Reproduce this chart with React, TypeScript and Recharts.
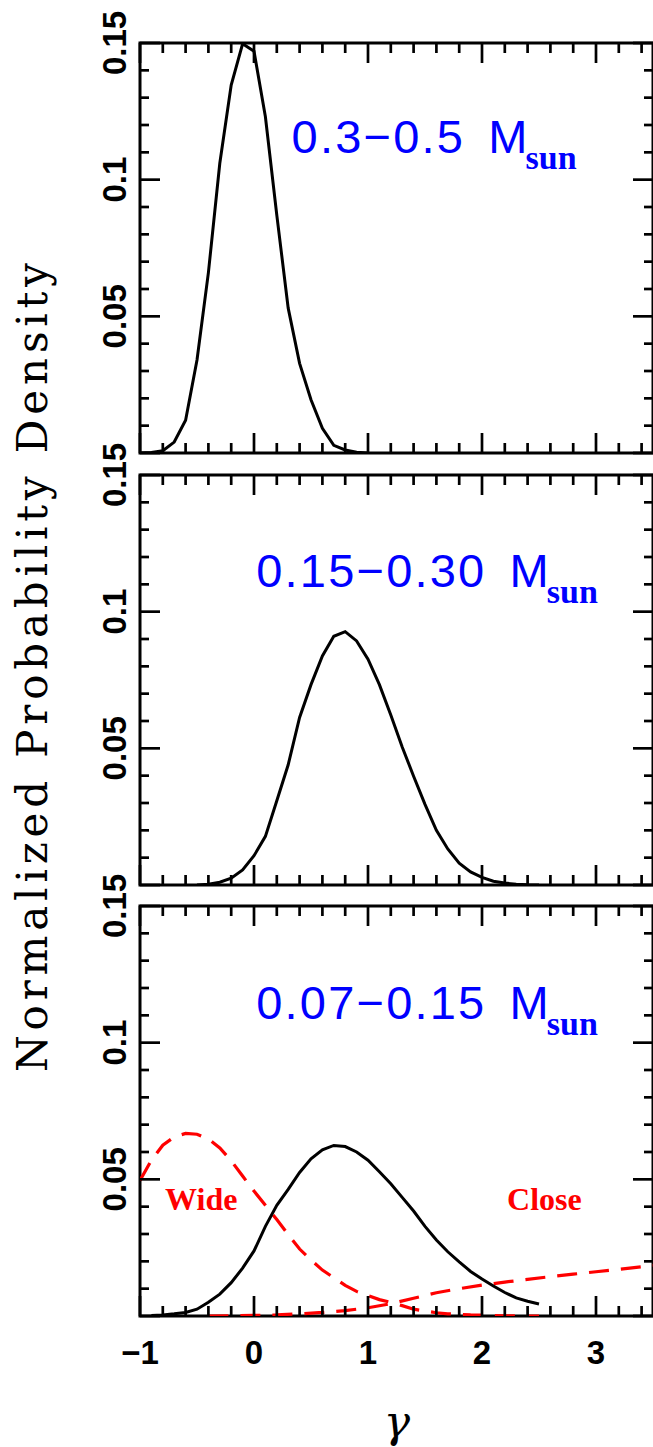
import React from 'react';
import { LineChart, Line, XAxis, YAxis, ReferenceArea, ReferenceDot } from 'recharts';

// ---- ticks & labels ----
const xTicks = [-1, -0.8, -0.6, -0.4, -0.2, 0, 0.2, 0.4, 0.6, 0.8, 1, 1.2, 1.4, 1.6, 1.8, 2, 2.2, 2.4, 2.6, 2.8, 3, 3.2, 3.4];
const yTicks = [0, 0.01, 0.02, 0.03, 0.04, 0.05, 0.06, 0.07, 0.08, 0.09, 0.1, 0.11, 0.12, 0.13, 0.14, 0.15];
const xLabelValues = [-1, 0, 1, 2, 3];
const xLabelTexts = ['\u22121', '0', '1', '2', '3'];
const yLabelValues = [0.05, 0.1, 0.15];
const yLabelTexts = ['0.05', '0.1', '0.15'];

// ---- panel 1: 0.3-0.5 Msun ----
const gamma1 = [-1.0, -0.9, -0.8, -0.7, -0.6, -0.5, -0.4, -0.3, -0.2, -0.1, 0.0, 0.1, 0.2, 0.3, 0.4, 0.5, 0.6, 0.7, 0.8, 0.9, 1.0];
const density1 = [0.0, 0.0002, 0.0008, 0.004, 0.012, 0.034, 0.066, 0.106, 0.1346, 0.1497, 0.147, 0.123, 0.087, 0.053, 0.0328, 0.0195, 0.009, 0.0028, 0.0011, 0.0003, 0.0];

// ---- panel 2: 0.15-0.30 Msun ----
const gamma2 = [-0.5, -0.4, -0.3, -0.2, -0.1, 0.0, 0.1, 0.2, 0.3, 0.4, 0.5, 0.6, 0.7, 0.8, 0.9, 1.0, 1.1, 1.2, 1.3, 1.4, 1.5, 1.6, 1.7, 1.8, 1.9, 2.0, 2.1, 2.2, 2.3, 2.4, 2.5];
const density2 = [0.0, 0.0003, 0.001, 0.0025, 0.0055, 0.0107, 0.0178, 0.0308, 0.044, 0.0613, 0.0733, 0.0838, 0.091, 0.0927, 0.0893, 0.0826, 0.0733, 0.0622, 0.0505, 0.0398, 0.0295, 0.02, 0.0132, 0.008, 0.0048, 0.0028, 0.0014, 0.0007, 0.0003, 0.0001, 0.0];

// ---- panel 3: 0.07-0.15 Msun ----
const gamma3 = [-0.9, -0.8, -0.7, -0.6, -0.5, -0.4, -0.3, -0.2, -0.1, 0.0, 0.1, 0.2, 0.3, 0.4, 0.5, 0.6, 0.7, 0.8, 0.9, 1.0, 1.1, 1.2, 1.3, 1.4, 1.5, 1.6, 1.7, 1.8, 1.9, 2.0, 2.1, 2.2, 2.3, 2.4, 2.5];
const density3 = [0.0002, 0.0004, 0.0008, 0.0013, 0.0025, 0.005, 0.008, 0.0122, 0.0175, 0.0238, 0.0328, 0.0405, 0.0463, 0.0525, 0.0575, 0.0608, 0.0624, 0.062, 0.06, 0.057, 0.0528, 0.0484, 0.0434, 0.0384, 0.0328, 0.0278, 0.0235, 0.0198, 0.0163, 0.0135, 0.011, 0.0086, 0.0066, 0.0054, 0.0044];

const gammaWide = [-1.0, -0.9, -0.8, -0.7, -0.6, -0.5, -0.4, -0.3, -0.2, -0.1, 0.0, 0.1, 0.2, 0.3, 0.4, 0.5, 0.6, 0.7, 0.8, 0.9, 1.0, 1.1, 1.2, 1.3, 1.4, 1.5, 1.6, 1.7, 1.8, 1.9, 2.0, 2.1, 2.2, 2.3, 2.4, 2.5];
const densityWide = [0.0496, 0.057, 0.0625, 0.0655, 0.0668, 0.0665, 0.0648, 0.0615, 0.0568, 0.0512, 0.0457, 0.0405, 0.0353, 0.0298, 0.0245, 0.0205, 0.0168, 0.014, 0.0112, 0.009, 0.0075, 0.006, 0.005, 0.0038, 0.0025, 0.0018, 0.0012, 0.0008, 0.0006, 0.0004, 0.0003, 0.0002, 0.0001, 0.0, 0.0, 0.0];

const gammaClose = [-0.4, -0.2, 0.0, 0.2, 0.4, 0.6, 0.8, 1.0, 1.2, 1.4, 1.6, 1.8, 2.0, 2.2, 2.4, 2.6, 2.8, 3.0, 3.2, 3.4, 3.5];
const densityClose = [0.0, 0.0001, 0.0002, 0.0004, 0.0008, 0.0013, 0.002, 0.003, 0.0045, 0.0065, 0.0085, 0.01, 0.0113, 0.0124, 0.0134, 0.0144, 0.0153, 0.0162, 0.0171, 0.018, 0.0185];

// ---- annotations ----
const massLabels = ['0.3\u22120.5', '0.15\u22120.30', '0.07\u22120.15'];
const massLabelX = [0.33, 0.02, 0.02];
const massLabelY = [0.1096, 0.1091, 0.1087];
const sampleLabels = ['Wide', 'Close'];
const sampleLabelX = [-0.78, 2.22];
const sampleLabelY = [0.0388, 0.0388];

const toPoints = (xs: number[], ys: number[]) => xs.map((x, i) => ({ x, y: ys[i] }));

const W = 654;
const PLOT_H = 410;
const TOP_PAD = 40;
const TICK_FONT = "'Liberation Sans', Arial, sans-serif";
const near = (a: number, b: number) => Math.abs(a - b) < 1e-6;
const isMajorX = (v: number) => near(v, Math.round(v));
const isMajorY = (v: number) => near(v * 20, Math.round(v * 20));
const TW = 2.7;

function BottomTick(props: any) {
  const { x, y, payload, showLabels } = props;
  const v = payload.value;
  const len = isMajorX(v) ? 20 : 10;
  const idx = xLabelValues.findIndex((l) => near(l, v));
  return (
    <g>
      <line x1={x} x2={x} y1={y} y2={y - len} stroke="#000" strokeWidth={TW} />
      {showLabels && idx >= 0 ? (
        <text x={x} y={y + 48} textAnchor="middle" fontFamily={TICK_FONT} fontWeight="bold" fontSize={33} fill="#000">
          {xLabelTexts[idx]}
        </text>
      ) : null}
    </g>
  );
}

function TopTick(props: any) {
  const { x, y, payload } = props;
  const len = isMajorX(payload.value) ? 20 : 10;
  return <line x1={x} x2={x} y1={y} y2={y + len} stroke="#000" strokeWidth={TW} />;
}

function LeftTick(props: any) {
  const { x, y, payload } = props;
  const v = payload.value;
  const len = isMajorY(v) ? 20 : 9;
  const idx = yLabelValues.findIndex((l) => near(l, v));
  return (
    <g>
      <line x1={x} x2={x + len} y1={y} y2={y} stroke="#000" strokeWidth={TW} />
      {idx >= 0 ? (
        <text
          transform={`translate(${x - 14},${y}) rotate(-90)`}
          textAnchor="middle"
          fontFamily={TICK_FONT}
          fontWeight="bold"
          fontSize={33}
          fill="#000"
        >
          {yLabelTexts[idx]}
        </text>
      ) : null}
    </g>
  );
}

function RightTick(props: any) {
  const { x, y, payload } = props;
  const len = isMajorY(payload.value) ? 20 : 9;
  return <line x1={x} x2={x - len} y1={y} y2={y} stroke="#000" strokeWidth={TW} />;
}

function MassLabel({ idx }: { idx: number }) {
  return (
    <ReferenceDot
      xAxisId="b"
      yAxisId="l"
      x={massLabelX[idx]}
      y={massLabelY[idx]}
      r={0}
      ifOverflow="visible"
      shape={(p: any) => (
        <text x={p.cx} y={p.cy} fontFamily="'Liberation Sans', Arial, sans-serif" fontSize={47} letterSpacing={2.2} fill="#0000ff">
          {massLabels[idx]}
          <tspan dx={23}>M</tspan>
          <tspan dx={-4} dy={16} fontFamily="'Liberation Serif', serif" fontWeight="bold" fontSize={34} letterSpacing={0}>
            sun
          </tspan>
        </text>
      )}
    />
  );
}

function Panel({ top, bottomExtra, showXLabels, children }: any) {
  const h = TOP_PAD + PLOT_H + bottomExtra;
  return (
    <div style={{ position: 'absolute', left: 0, top: top - TOP_PAD, width: W, height: h }}>
      <LineChart width={W} height={h} margin={{ top: TOP_PAD - 1, right: 0, bottom: bottomExtra - 1, left: 0 }}>
        <XAxis
          xAxisId="b"
          type="number"
          dataKey="x"
          domain={[-1, 3.5]}
          ticks={xTicks}
          interval={0}
          height={1}
          tickSize={0}
          tickMargin={0}
          axisLine={false}
          tickLine={false}
          allowDataOverflow
          tick={(p: any) => <BottomTick {...p} showLabels={showXLabels} />}
        />
        <XAxis
          xAxisId="t"
          orientation="top"
          type="number"
          dataKey="x"
          domain={[-1, 3.5]}
          ticks={xTicks}
          interval={0}
          height={1}
          tickSize={0}
          tickMargin={0}
          axisLine={false}
          tickLine={false}
          allowDataOverflow
          tick={(p: any) => <TopTick {...p} />}
        />
        <YAxis
          yAxisId="l"
          type="number"
          domain={[0, 0.15]}
          ticks={yTicks}
          interval={0}
          width={140}
          tickSize={0}
          tickMargin={0}
          axisLine={false}
          tickLine={false}
          allowDataOverflow
          tick={(p: any) => <LeftTick {...p} />}
        />
        <YAxis
          yAxisId="r"
          orientation="right"
          type="number"
          domain={[0, 0.15]}
          ticks={yTicks}
          interval={0}
          width={1}
          tickSize={0}
          tickMargin={0}
          axisLine={false}
          tickLine={false}
          allowDataOverflow
          tick={(p: any) => <RightTick {...p} />}
        />
        <ReferenceArea
          xAxisId="b"
          yAxisId="l"
          x1={-1}
          x2={3.5}
          y1={0}
          y2={0.15}
          fill="none"
          stroke="#000"
          strokeWidth={3}
          ifOverflow="visible"
        />
        {children}
      </LineChart>
    </div>
  );
}

export default function App() {
  return (
    <div style={{ position: 'absolute', left: 0, top: 0, width: 653, height: 1447, background: '#fff', overflow: 'hidden' }}>
      <Panel top={43} bottomExtra={10} showXLabels={false}>
        <Line xAxisId="b" yAxisId="l" data={toPoints(gamma1, density1)} dataKey="y" type="linear" stroke="#000" strokeWidth={3} dot={false} isAnimationActive={false} />
        {MassLabel({ idx: 0 })}
      </Panel>
      <Panel top={475} bottomExtra={10} showXLabels={false}>
        <Line xAxisId="b" yAxisId="l" data={toPoints(gamma2, density2)} dataKey="y" type="linear" stroke="#000" strokeWidth={3} dot={false} isAnimationActive={false} />
        {MassLabel({ idx: 1 })}
      </Panel>
      <Panel top={906} bottomExtra={60} showXLabels={true}>
        <Line xAxisId="b" yAxisId="l" data={toPoints(gammaWide, densityWide)} dataKey="y" type="linear" stroke="#ff0000" strokeWidth={3.2} strokeDasharray="20 12" dot={false} isAnimationActive={false} />
        <Line xAxisId="b" yAxisId="l" data={toPoints(gammaClose, densityClose)} dataKey="y" type="linear" stroke="#ff0000" strokeWidth={3.2} strokeDasharray="20 12" dot={false} isAnimationActive={false} />
        <Line xAxisId="b" yAxisId="l" data={toPoints(gamma3, density3)} dataKey="y" type="linear" stroke="#000" strokeWidth={3} dot={false} isAnimationActive={false} />
        {MassLabel({ idx: 2 })}
        {sampleLabels.map((s, i) => (
          <ReferenceDot
            key={s}
            xAxisId="b"
            yAxisId="l"
            x={sampleLabelX[i]}
            y={sampleLabelY[i]}
            r={0}
            ifOverflow="visible"
            shape={(p: any) => (
              <text x={p.cx} y={p.cy} fontFamily="'Liberation Serif', serif" fontWeight="bold" fontSize={32} fill="#ff0000">
                {s}
              </text>
            )}
          />
        ))}
      </Panel>
      <svg width={653} height={1447} style={{ position: 'absolute', left: 0, top: 0, pointerEvents: 'none' }}>
        <text
          transform="translate(46.5,667.5) rotate(-90)"
          textAnchor="middle"
          fontFamily="'DejaVu Serif', serif"
          fontSize={42}
          textLength={809}
          lengthAdjust="spacing"
          fill="#000"
        >
          Normalized Probability Density
        </text>
        <text x={397} y={1437} textAnchor="middle" fontFamily="'DejaVu Serif', serif" fontStyle="italic" fontSize={44} fill="#000">
          {'\u03B3'}
        </text>
      </svg>
    </div>
  );
}
